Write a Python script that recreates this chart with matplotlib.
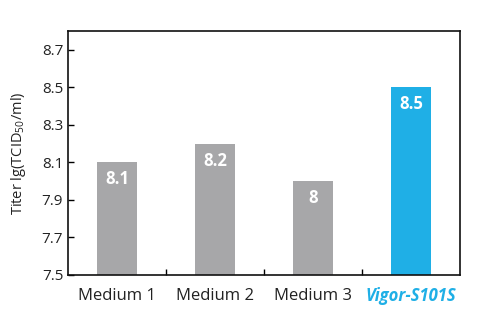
import matplotlib
matplotlib.use("Agg")
import matplotlib.pyplot as plt

categories = ["Medium 1", "Medium 2", "Medium 3", "Vigor-S101S"]
titers = [8.1, 8.2, 8.0, 8.5]
value_labels = ["8.1", "8.2", "8", "8.5"]
colors = ["#a7a7a9", "#a7a7a9", "#a7a7a9", "#1fafe6"]
yticks = [7.5, 7.7, 7.9, 8.1, 8.3, 8.5, 8.7]

plt.rcParams['font.family'] = ['Open Sans', 'DejaVu Sans']
plt.rcParams['mathtext.fontset'] = 'custom'
plt.rcParams['mathtext.rm'] = 'Open Sans'
plt.rcParams['mathtext.it'] = 'Open Sans:italic'

fig = plt.figure(figsize=(4.78, 3.16), dpi=100)
ax = fig.add_axes([68/478, 1 - 275/316, (460-68)/478, (275-31)/316])

x = range(len(categories))
ax.bar(x, [t - 7.5 for t in titers], bottom=7.5, width=0.41, color=colors)
for i, (t, lab) in enumerate(zip(titers, value_labels)):
    ax.text(i, t - 0.09, lab, ha='center', va='center', color='white',
            fontsize=12, fontweight='bold')

ax.set_xlim(-0.5, 3.5)
ax.set_ylim(7.5, 8.8)
ax.set_yticks(yticks)
ax.set_yticklabels([f"{v:.1f}" for v in yticks], fontsize=11, color='#222222')
ax.set_xticks([0.5, 1.5, 2.5])
ax.set_xticklabels([])
ax.tick_params(axis='both', direction='in', length=4, width=1)
for s in ax.spines.values():
    s.set_linewidth(1.2)
    s.set_color('#111111')

for i, c in enumerate(categories):
    if i == 3:
        ax.text(i, 7.5 - 0.11, c, ha='center', va='center', fontsize=12,
                fontweight='bold', style='italic', color='#1fafe6',
                clip_on=False)
    else:
        ax.text(i, 7.5 - 0.11, c, ha='center', va='center', fontsize=12,
                color='#222222', clip_on=False)

ax.set_ylabel("Titer lg(TCID$_{50}$/ml)", fontsize=10.5, color='#222222', labelpad=10)

fig.savefig("out.png", dpi=100)
